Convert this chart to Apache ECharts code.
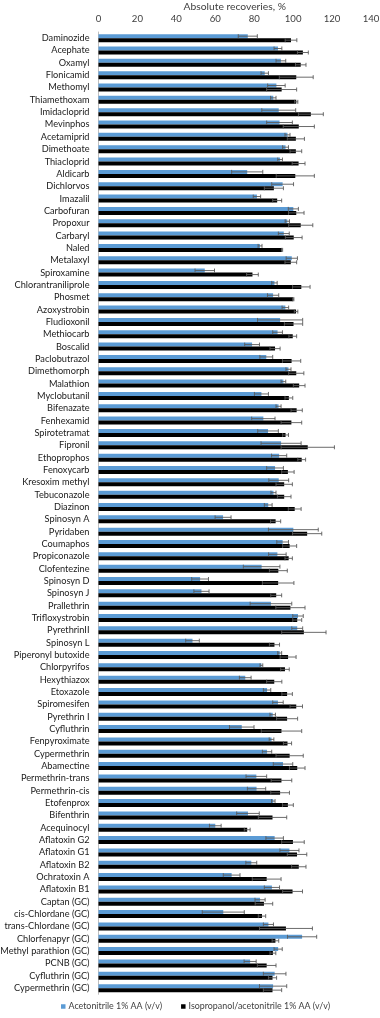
<!DOCTYPE html>
<html><head><meta charset="utf-8">
<script src="https://cdn.jsdelivr.net/npm/echarts@6/dist/echarts.min.js"></script>
<style>html,body{margin:0;padding:0;background:#fff}#c{width:380px;height:1018px}</style>
</head><body><div id="c"></div>
<script>
const categories = ["Daminozide","Acephate","Oxamyl","Flonicamid","Methomyl","Thiamethoxam","Imidacloprid","Mevinphos","Acetamiprid","Dimethoate","Thiacloprid","Aldicarb","Dichlorvos","Imazalil","Carbofuran","Propoxur","Carbaryl","Naled","Metalaxyl","Spiroxamine","Chlorantraniliprole","Phosmet","Azoxystrobin","Fludioxonil","Methiocarb","Boscalid","Paclobutrazol","Dimethomorph","Malathion","Myclobutanil","Bifenazate","Fenhexamid","Spirotetramat","Fipronil","Ethoprophos","Fenoxycarb","Kresoxim methyl","Tebuconazole","Diazinon","Spinosyn A","Pyridaben","Coumaphos","Propiconazole","Clofentezine","Spinosyn D","Spinosyn J","Prallethrin","Trifloxystrobin","PyrethrinII","Spinosyn L","Piperonyl butoxide","Chlorpyrifos","Hexythiazox","Etoxazole","Spiromesifen","Pyrethrin I","Cyfluthrin","Fenpyroximate","Cypermethrin","Abamectine","Permethrin-trans","Permethrin-cis","Etofenprox","Bifenthrin","Acequinocyl","Aflatoxin G2","Aflatoxin G1","Aflatoxin B2","Ochratoxin A","Aflatoxin B1","Captan (GC)","cis-Chlordane (GC)","trans-Chlordane (GC)","Chlorfenapyr (GC)","Methyl parathion (GC)","PCNB (GC)","Cyfluthrin (GC)","Cypermethrin (GC)"];

const acnValues = [76.7,92.2,93.7,85.4,91.4,89.8,92.6,93,97.1,96.1,93.3,76.4,94.6,81.4,100.1,97,95.2,83,99.3,54.6,90.4,89.7,96,93.3,92,78.9,86.2,97.6,95,83.7,92.5,84.7,87.1,93.8,92.8,90.7,92.6,89.9,87.2,64,100.1,94.6,91.9,83.8,52.2,52.9,88.6,102.5,102.1,48.3,93.1,83.7,75.4,86.6,92.2,89.5,73.6,88.9,86.6,94.8,81.1,81.2,89.8,76.8,60,90.5,98.1,78.5,68.4,89.1,83,64.1,87.3,104.6,92.3,77.9,90.5,89.7];
const acnErrors = [4.9,2,2.5,1.9,4.5,1.4,8.7,6.6,1.3,1.5,1.2,8,5.6,1.9,2.6,1.1,2.8,1,2.9,5,1.4,2.9,1.7,11.6,2.5,3.8,3.3,1.3,1.2,3.6,1.3,6,5.3,10.3,3.9,4.3,5.1,1.3,2,4.1,12.8,3,4.5,9.4,4.3,3.9,10.7,2.7,2.8,3.5,1,0.7,3,1.9,2.7,1.4,6.3,1.2,2.4,5,5.3,4.7,0.9,5.8,3,4.5,4.9,2.8,4.3,3.9,2.6,10.8,2.6,7.5,2.1,3.1,5.8,7];
const ipaValues = [98.9,105,103.9,101.6,94.1,101.6,109.1,102.9,101.4,101.4,102.8,101.1,90.1,91.8,101.6,103.9,100.3,94.3,98.8,79.1,104.2,100.1,101.5,100.2,99.8,90.7,99.2,101.6,103.1,97.8,101.8,99.1,96.1,107.5,104.4,97.3,95.4,95.4,100.8,91,107.2,98.2,97.7,92.4,92.3,91.3,98.6,102.1,105.5,90.4,97.4,95.8,90.3,96.9,101.6,96.9,94,97.1,98.2,102.1,94,93.3,97.3,89.4,76.4,99.9,102,102.9,86.4,99.7,85,84,96.3,90.9,89.6,86.4,89.4,89.4];
const ipaErrors = [3,2.8,2.7,8.7,7.7,0.8,6.4,8,4.4,3,3.3,9.8,4.9,2.3,4,6.2,4.3,0.3,3,3,4.5,0.3,0.9,4.7,2,2.6,4.7,3.9,3,2,2.9,5.3,1.5,13.7,2,3.2,4.2,3.5,3.3,2.6,7.5,3.6,1.9,4.6,8.1,2.8,7.5,2.3,11.4,2.6,4.1,2.2,3.9,2.7,3.2,5.4,10.4,2.1,7,4,5.3,4.8,2.8,7.3,1.5,5.8,5,3.7,7.4,5.1,4.5,1.9,13.6,1.7,1.5,4.8,2.1,4.7];

const seriesNames = ["Acetonitrile 1% AA (v/v)", "Isopropanol/acetonitrile 1% AA (v/v)"];
const seriesColors = ["#5b9bd5", "#000000"];
const axisTitle = "Absolute recoveries, %";

const FONT = "Lato, sans-serif";
const BAR_W = 4;
const ERR_COLOR = "#5a5a5a";

function errData(vals, errs) {
  return vals.map((v, i) => [v, i, errs[i]]);
}
function errRender(shift) {
  return function (params, api) {
    const v = api.value(0), c = api.value(1), e = api.value(2);
    const lo = api.coord([v - e, c]);
    const hi = api.coord([v + e, c]);
    const y = lo[1] + shift;
    const h = 2;
    const st = { stroke: ERR_COLOR, lineWidth: 0.9 };
    return {
      type: 'group',
      children: [
        { type: 'line', shape: { x1: lo[0], y1: y, x2: hi[0], y2: y }, style: st },
        { type: 'line', shape: { x1: lo[0], y1: y - h, x2: lo[0], y2: y + h }, style: st },
        { type: 'line', shape: { x1: hi[0], y1: y - h, x2: hi[0], y2: y + h }, style: st }
      ]
    };
  };
}

const chart = echarts.init(document.getElementById('c'), null, { renderer: 'canvas' });
chart.setOption({
  animation: false,
  textStyle: { fontFamily: FONT },
  grid: { left: 98.5, right: 9, top: 32, bottom: 23.7, containLabel: false, outerBoundsMode: 'none' },
  legend: {
    bottom: 2,
    left: 56,
    data: seriesNames,
    icon: 'rect',
    itemWidth: 4.5,
    itemHeight: 4.5,
    itemGap: 19,
    textStyle: { fontSize: 8.9, color: '#404040', fontFamily: FONT, padding: [0, 0, 0, -2] }
  },
  xAxis: {
    type: 'value',
    position: 'top',
    min: 0, max: 140, interval: 20,
    name: axisTitle,
    nameLocation: 'middle',
    nameGap: 20,
    nameMoveOverlap: false,
    nameTextStyle: { fontSize: 10.3, color: '#404040', fontFamily: FONT },
    axisLine: { show: false },
    axisTick: { show: false },
    splitLine: { show: false },
    axisLabel: { fontSize: 9.6, color: '#404040', margin: 8, fontFamily: FONT }
  },
  yAxis: {
    type: 'category',
    inverse: true,
    data: categories,
    axisLine: { show: true, lineStyle: { color: '#bfbfbf', width: 1 } },
    axisTick: { show: false },
    axisLabel: { fontSize: 9.2, color: '#1a1a1a', margin: 9, interval: 0, fontFamily: FONT }
  },
  series: [
    { name: seriesNames[0], type: 'bar', data: acnValues, barWidth: BAR_W, barGap: '0%', itemStyle: { color: seriesColors[0] } },
    { name: seriesNames[1], type: 'bar', data: ipaValues, barWidth: BAR_W, barGap: '0%', itemStyle: { color: seriesColors[1] } },
    { type: 'custom', data: errData(acnValues, acnErrors), renderItem: errRender(-BAR_W / 2), encode: { x: 0, y: 1 }, z: 5, silent: true },
    { type: 'custom', data: errData(ipaValues, ipaErrors), renderItem: errRender(BAR_W / 2), encode: { x: 0, y: 1 }, z: 5, silent: true }
  ]
});
</script>
</body></html>
